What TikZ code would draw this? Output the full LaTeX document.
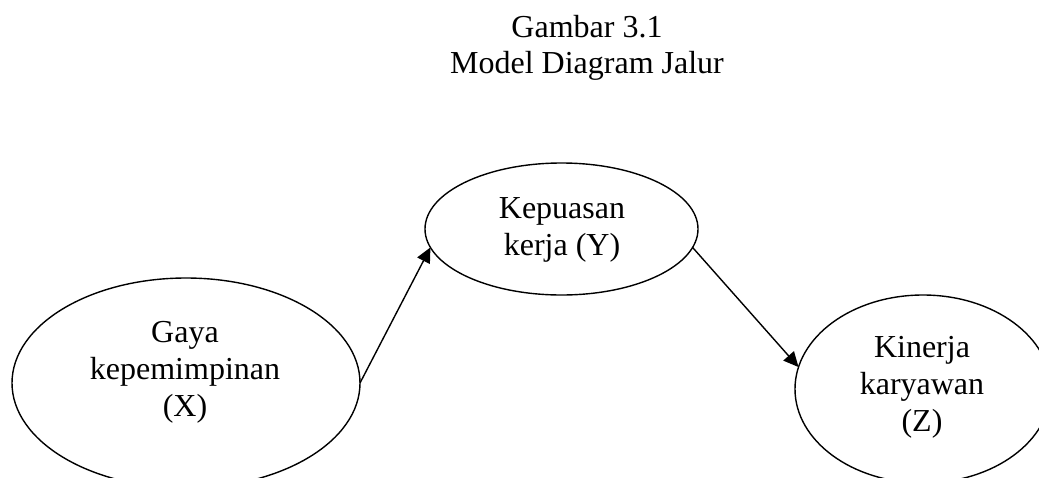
\documentclass[tikz,border=0pt]{standalone}
\usepackage{fontspec}
\setmainfont{Liberation Serif}
\usetikzlibrary{shapes.geometric,arrows.meta}
\begin{document}
\begin{tikzpicture}[x=1pt,y=-1pt,
  var/.style={ellipse,draw,line width=1.4pt,inner sep=0pt,outer sep=0pt},
  lbl/.style={align=center,font=\fontsize{32}{37}\selectfont,inner sep=0pt},
  conn/.style={line width=1.4pt,-{Triangle[length=15pt,width=14pt]}}]
\useasboundingbox (0,0) rectangle (1039,477);
\clip (0,0) rectangle (1039,477);
\node[lbl,anchor=base] (t1) at (587,37) {Gambar 3.1};
\node[lbl,anchor=base] (t2) at (587,73) {Model Diagram Jalur};
\node[var,minimum width=348pt,minimum height=210pt] (x) at (186,383) {};
\node[var,minimum width=273pt,minimum height=132pt] (y) at (561.5,229) {};
\node[var,minimum width=256pt,minimum height=188pt] (z) at (923,389) {};
\node[lbl] (xt) at (185,372) {Gaya\\kepemimpinan\\(X)};
\node[lbl] (yt) at (562,230) {Kepuasan\\kerja (Y)};
\node[lbl] (zt) at (922,387) {Kinerja\\karyawan\\(Z)};
\draw[conn] (x.east) -- (y.188);
\draw[conn] (y.-8) -- (z.170);
\end{tikzpicture}
\end{document}
